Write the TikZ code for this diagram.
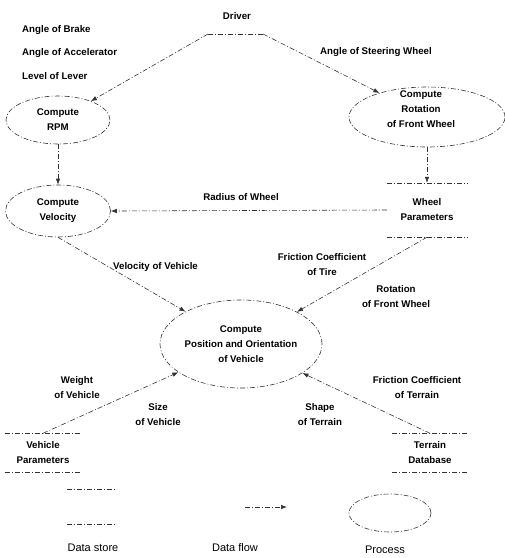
\documentclass[tikz,border=0pt]{standalone}
\usepackage{fontspec}
\setmainfont{Liberation Sans}
\usetikzlibrary{shapes.geometric,arrows.meta,positioning,calc}

\newcommand{\lblfont}{\fontsize{9.7}{15}\selectfont\bfseries}
\newcommand{\keyfont}{\fontsize{11}{13}\selectfont}

\tikzset{
  lbl/.style={font=\lblfont, align=center, inner sep=0pt},
  ln/.style={draw=black!80, line width=0.6pt, dash pattern=on 5pt off 2pt on 1pt off 2pt},
  flow/.style={ln, -{Latex[length=6pt,width=4.5pt]}},
  proc/.style={ellipse, ln, inner sep=0pt, align=center, font=\lblfont},
  store/.style={inner sep=0pt, align=center, font=\lblfont}
}

\begin{document}
\begin{tikzpicture}[x=1pt, y=-1pt]

\useasboundingbox (0,0) rectangle (505,558);

% Driver
\node[lbl] (driver) at (237,16) {Driver};
\coordinate (drvL) at (208,34);
\coordinate (drvR) at (263,34);
\draw[ln] (drvL) -- (drvR);

% Inputs from driver
\node[lbl, anchor=west] (brake) at (22,30) {Angle of Brake};
\node[lbl, anchor=west] (accel) at (22,53) {Angle of Accelerator};
\node[lbl, anchor=west] (lever) at (22,76) {Level of Lever};
\node[lbl] (steer) at (376,52) {Angle of Steering Wheel};

% Processes
\node[proc, minimum width=104, minimum height=48] (rpm) at (58,120) {Compute\\RPM};
\node[proc, minimum width=156, minimum height=60] (rot) at (427,117) {};
\node[lbl] (rottxt) at (421,109) {Compute\\Rotation\\of Front Wheel};
\node[proc, minimum width=105, minimum height=52] (vel) at (58,211) {Compute\\Velocity};
\node[proc, minimum width=162, minimum height=88] (pos) at (241,344)
  {Compute\\Position and Orientation\\of Vehicle};

% Data stores
\node[store, minimum width=80, minimum height=54] (wp) at (427,210) {Wheel\\Parameters};
\node[store, minimum width=76, minimum height=39] (vp) at (43,453) {Vehicle\\Parameters};
\node[store, minimum width=76, minimum height=39] (td) at (430,453) {Terrain\\Database};
\foreach \s in {wp,vp,td} {
  \draw[ln] (\s.north west) -- (\s.north east);
  \draw[ln] (\s.south west) -- (\s.south east);
}

% Flows
\draw[flow] (drvL) -- (rpm);
\draw[flow] (drvR) -- (rot);
\draw[flow] (rpm) -- (vel);
\draw[flow] (rot.south) -- (wp.north);
\draw[flow] (wp.west) -- (vel.east);
\draw[flow] (vel.south) -- (pos);
\draw[flow] (wp.south) -- (pos);
\draw[flow] (vp.north) -- (pos);
\draw[flow] (td.north) -- (pos);

% Flow labels
\node[lbl] (radius) at (241,197) {Radius of Wheel};
\node[lbl, anchor=west] (velveh) at (113,267) {Velocity of Vehicle};
\node[lbl] (fctire) at (322,265) {Friction Coefficient\\of Tire};
\node[lbl] (rotfw) at (396,297) {Rotation\\of Front Wheel};
\node[lbl] (weight) at (77,388) {Weight\\of Vehicle};
\node[lbl] (size) at (158,415) {Size\\of Vehicle};
\node[lbl] (fcterr) at (417,388) {Friction Coefficient\\of Terrain};
\node[lbl] (shape) at (320,415) {Shape\\of Terrain};

% Legend
\node[minimum width=49, minimum height=35, inner sep=0pt] (ds) at (92,507) {};
\draw[ln] (ds.north west) -- (ds.north east);
\draw[ln] (ds.south west) -- (ds.south east);
\coordinate (dfa) at (245,507);
\coordinate (dfb) at (287,507);
\draw[flow] (dfa) -- (dfb);
\node[ellipse, ln, minimum width=82, minimum height=38] (pr) at (390,513) {};

\node[font=\keyfont, inner sep=0pt] (dslbl) at (93,548) {Data store};
\node[font=\keyfont, inner sep=0pt] (dflbl) at (235,548) {Data flow};
\node[font=\keyfont, inner sep=0pt] (prlbl) at (385,550) {Process};

\end{tikzpicture}
\end{document}
